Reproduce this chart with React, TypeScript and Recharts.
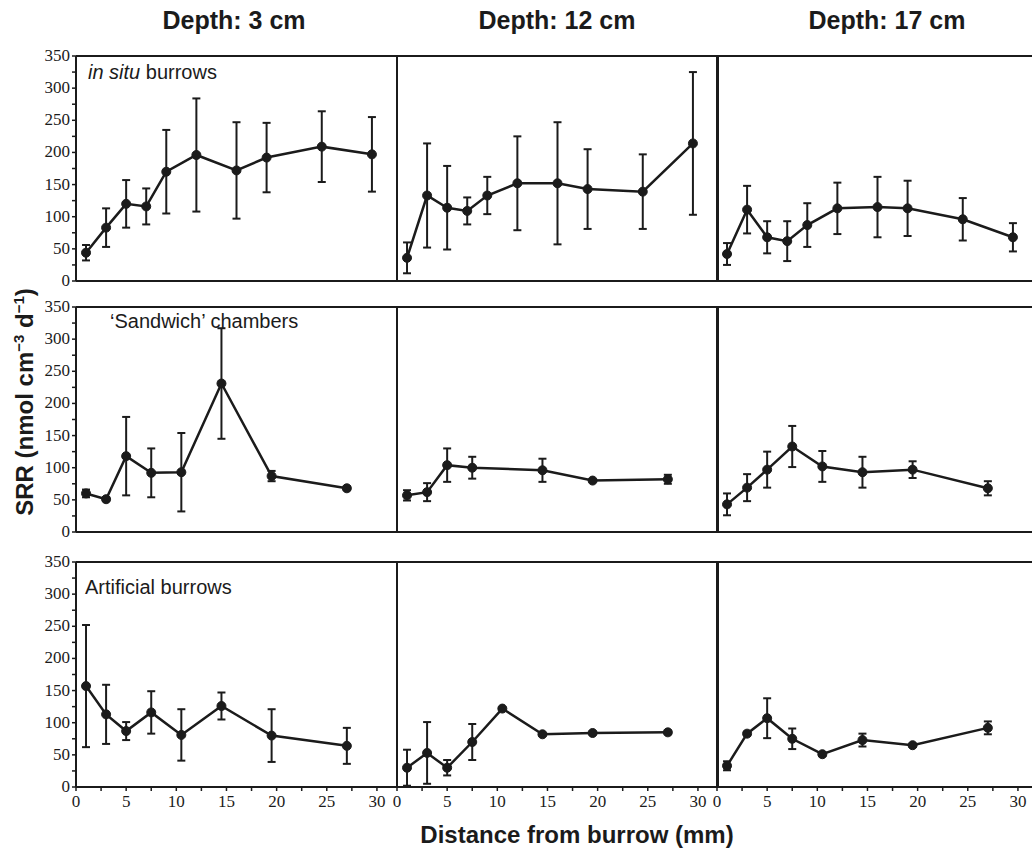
import React from 'react';
import {
  LineChart, Line, XAxis, YAxis, ErrorBar, ReferenceLine,
} from 'recharts';

// distances (mm) at which SRR was measured
const xInSitu = [1, 3, 5, 7, 9, 12, 16, 19, 24.5, 29.5];
const xCore = [1, 3, 5, 7.5, 10.5, 14.5, 19.5, 27];
const xSandwich12 = [1, 3, 5, 7.5, 14.5, 19.5, 27];

// in situ burrows
const inSitu3 = [44, 83, 120, 116, 170, 196, 172, 192, 209, 197];
const inSitu3Err = [12, 30, 37, 28, 65, 88, 75, 54, 55, 58];
const inSitu12 = [36, 133, 114, 109, 133, 152, 152, 143, 139, 214];
const inSitu12Err = [24, 81, 65, 21, 29, 73, 95, 62, 58, 111];
const inSitu17 = [42, 111, 68, 62, 87, 113, 115, 113, 96, 68];
const inSitu17Err = [17, 37, 25, 31, 34, 40, 47, 43, 33, 22];

// 'Sandwich' chambers
const sandwich3 = [60, 51, 118, 92, 93, 231, 87, 68];
const sandwich3Err = [6, 3, 61, 38, 61, 86, 8, 3];
const sandwich12 = [57, 62, 104, 100, 96, 80, 82];
const sandwich12Err = [8, 14, 26, 17, 18, 2, 7];
const sandwich17 = [43, 69, 97, 133, 102, 93, 97, 68];
const sandwich17Err = [17, 21, 28, 32, 24, 24, 13, 11];

// Artificial burrows
const artificial3 = [157, 113, 87, 116, 81, 126, 80, 64];
const artificial3Err = [95, 46, 14, 33, 40, 21, 41, 28];
const artificial12 = [30, 53, 30, 70, 122, 82, 84, 85];
const artificial12Err = [28, 48, 12, 28, 2, 2, 2, 3];
const artificial17 = [33, 83, 107, 75, 51, 73, 65, 92];
const artificial17Err = [7, 3, 31, 16, 3, 10, 2, 10];

const xTicks = [0, 2.5, 5, 7.5, 10, 12.5, 15, 17.5, 20, 22.5, 25, 27.5, 30];
const yTicks = [0, 25, 50, 75, 100, 125, 150, 175, 200, 225, 250, 275, 300, 325, 350];

const depthTitles = ['Depth: 3 cm', 'Depth: 12 cm', 'Depth: 17 cm'];

const INK = '#1b1b1b';
const SANS = '"Liberation Sans", Arial, Helvetica, sans-serif';
const SERIF = "'Liberation Serif', 'Times New Roman', 'DejaVu Serif', serif";

const PLOT_W = 321;
const PLOT_H = 225;
const colLeft = [76, 397, 717];
const rowTop = [56, 307, 562];
const titleCenter = [234, 557, 887];

const XTick = ({ x, y, payload }: any) => {
  const v = payload.value;
  if (v % 5 !== 0) return null;
  return (
    <text x={x} y={y} dy={13} textAnchor="middle" fill={INK}
      style={{ fontFamily: SERIF, fontSize: 17 }}>{v}</text>
  );
};

const YTick = ({ x, y, payload }: any) => {
  const v = payload.value;
  if (v % 50 !== 0) return null;
  return (
    <text x={x} y={y} dy={5} textAnchor="end" fill={INK}
      style={{ fontFamily: SERIF, fontSize: 17 }}>{v}</text>
  );
};

interface PanelProps {
  xs: number[];
  ys: number[];
  errs: number[];
  row: number;
  col: number;
}

function Panel({ xs, ys, errs, row, col }: PanelProps) {
  const showY = col === 0;
  const showX = row === 2;
  const offLeft = showY ? 60 : 10;
  const data = xs.map((x, i) => ({ x, y: ys[i], err: errs[i] }));
  const width = offLeft + PLOT_W + 10;
  const height = 10 + PLOT_H + (showX ? 30 : 10);

  return (
    <div style={{ position: 'absolute', left: colLeft[col] - offLeft, top: rowTop[row] - 10 }}>
      <LineChart
        width={width}
        height={height}
        data={data}
        margin={{ top: 10, right: 10, bottom: showX ? 0 : 10, left: showY ? 0 : 10 }}
      >
        <XAxis
          type="number"
          dataKey="x"
          domain={[0, 32]}
          allowDataOverflow
          ticks={xTicks}
          interval={0}
          hide={!showX}
          height={30}
          axisLine={false}
          tickLine={{ stroke: INK, strokeWidth: 1.5 }}
          tickSize={4}
          tickMargin={3}
          tick={<XTick />}
        />
        <YAxis
          type="number"
          domain={[0, 350]}
          allowDataOverflow
          ticks={yTicks}
          interval={0}
          hide={!showY}
          width={60}
          axisLine={false}
          tickLine={{ stroke: INK, strokeWidth: 1.5 }}
          tickSize={4}
          tickMargin={2}
          tick={<YTick />}
        />
        <ReferenceLine y={0} stroke={INK} strokeWidth={2} />
        <ReferenceLine y={350} stroke={INK} strokeWidth={2} />
        <ReferenceLine x={0} stroke={INK} strokeWidth={2} />
        <ReferenceLine x={32} stroke={INK} strokeWidth={2} />
        <Line
          type="linear"
          dataKey="y"
          stroke={INK}
          strokeWidth={2.5}
          dot={{ r: 4.5, fill: INK, stroke: INK, strokeWidth: 1 }}
          isAnimationActive={false}
        >
          <ErrorBar dataKey="err" direction="y" width={4} stroke={INK} strokeWidth={2} />
        </Line>
      </LineChart>
    </div>
  );
}

export default function App() {
  return (
    <div style={{
      position: 'fixed', left: 0, top: 0, width: 1032, height: 852,
      overflow: 'hidden', background: '#fff', color: INK,
    }}>
      {depthTitles.map((t, i) => (
        <div key={t} style={{
          position: 'absolute', left: titleCenter[i] - 150, top: 8, width: 300,
          textAlign: 'center', fontFamily: SANS, fontWeight: 700, fontSize: 25, lineHeight: 1,
        }}>{t}</div>
      ))}

      <Panel xs={xInSitu} ys={inSitu3} errs={inSitu3Err} row={0} col={0} />
      <Panel xs={xInSitu} ys={inSitu12} errs={inSitu12Err} row={0} col={1} />
      <Panel xs={xInSitu} ys={inSitu17} errs={inSitu17Err} row={0} col={2} />
      <Panel xs={xCore} ys={sandwich3} errs={sandwich3Err} row={1} col={0} />
      <Panel xs={xSandwich12} ys={sandwich12} errs={sandwich12Err} row={1} col={1} />
      <Panel xs={xCore} ys={sandwich17} errs={sandwich17Err} row={1} col={2} />
      <Panel xs={xCore} ys={artificial3} errs={artificial3Err} row={2} col={0} />
      <Panel xs={xCore} ys={artificial12} errs={artificial12Err} row={2} col={1} />
      <Panel xs={xCore} ys={artificial17} errs={artificial17Err} row={2} col={2} />

      <div style={{ position: 'absolute', left: 88, top: 62, fontFamily: SANS, fontSize: 20, lineHeight: 1 }}>
        <i>in situ</i> burrows
      </div>
      <div style={{ position: 'absolute', left: 110, top: 311, fontFamily: SANS, fontSize: 20, lineHeight: 1 }}>
        ‘Sandwich’ chambers
      </div>
      <div style={{ position: 'absolute', left: 85, top: 577, fontFamily: SANS, fontSize: 20, lineHeight: 1 }}>
        Artificial burrows
      </div>

      <div style={{
        position: 'absolute', left: 577 - 250, top: 823, width: 500, textAlign: 'center',
        fontFamily: SANS, fontWeight: 700, fontSize: 24, lineHeight: 1,
      }}>
        Distance from burrow (mm)
      </div>

      <div style={{
        position: 'absolute', left: 25 - 150, top: 402 - 15, width: 300, height: 30,
        lineHeight: '30px', textAlign: 'center', transform: 'rotate(-90deg)',
        fontFamily: SANS, fontWeight: 700, fontSize: 24, whiteSpace: 'nowrap',
      }}>
        SRR (nmol cm<sup style={{ fontSize: 15, lineHeight: 0 }}>−3</sup> d<sup style={{ fontSize: 15, lineHeight: 0 }}>−1</sup>)
      </div>
    </div>
  );
}
